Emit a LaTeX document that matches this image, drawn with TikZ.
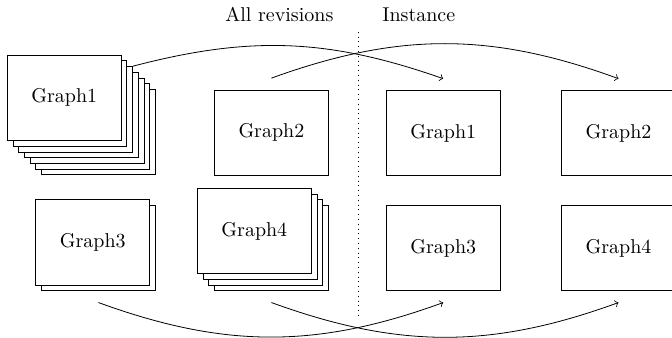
\documentclass[tikz,border=0pt]{standalone}
\begin{document}
\begin{tikzpicture}[
    graph/.style={draw, fill=white, minimum width=2cm, minimum height=1.5cm},
    link/.style={->}
  ]
  \useasboundingbox (0,0) rectangle (11.81,5.94);

  \node (hrev) at (4.91,5.68) {All revisions};
  \node (hinst) at (7.36,5.68) {Instance};
  \draw[dotted] (6.29,5.38) -- (6.29,0.32);

  % all revisions
  \foreach \k in {6,5,...,1}
    \node[graph, xshift=\k mm, yshift=-\k mm] (g1s\k) at (1.13,4.22) {};
  \node[graph] (g1) at (1.13,4.22) {Graph1};
  \node[graph] (g2) at (4.77,3.61) {Graph2};
  \node[graph, xshift=1mm, yshift=-1mm] (g3s1) at (1.63,1.68) {};
  \node[graph] (g3) at (1.63,1.68) {Graph3};
  \foreach \k in {3,2,1}
    \node[graph, xshift=\k mm, yshift=-\k mm] (g4s\k) at (4.47,1.88) {};
  \node[graph] (g4) at (4.47,1.88) {Graph4};

  % instance
  \node[graph] (i1) at (7.79,3.60) {Graph1};
  \node[graph] (i2) at (10.87,3.60) {Graph2};
  \node[graph] (i3) at (7.79,1.58) {Graph3};
  \node[graph] (i4) at (10.87,1.58) {Graph4};

  \draw[link] (g1s2.north east) to[bend left=17] ([yshift=2mm]i1.north);
  \draw[link] ([yshift=2mm]g2.north) to[bend left=20] ([yshift=2mm]i2.north);
  \draw[link] ([yshift=-2mm]g3s1.south) to[bend right=20] ([yshift=-2mm]i3.south);
  \draw[link] ([yshift=-2mm]g4s3.south) to[bend right=20] ([yshift=-2mm]i4.south);
\end{tikzpicture}
\end{document}
